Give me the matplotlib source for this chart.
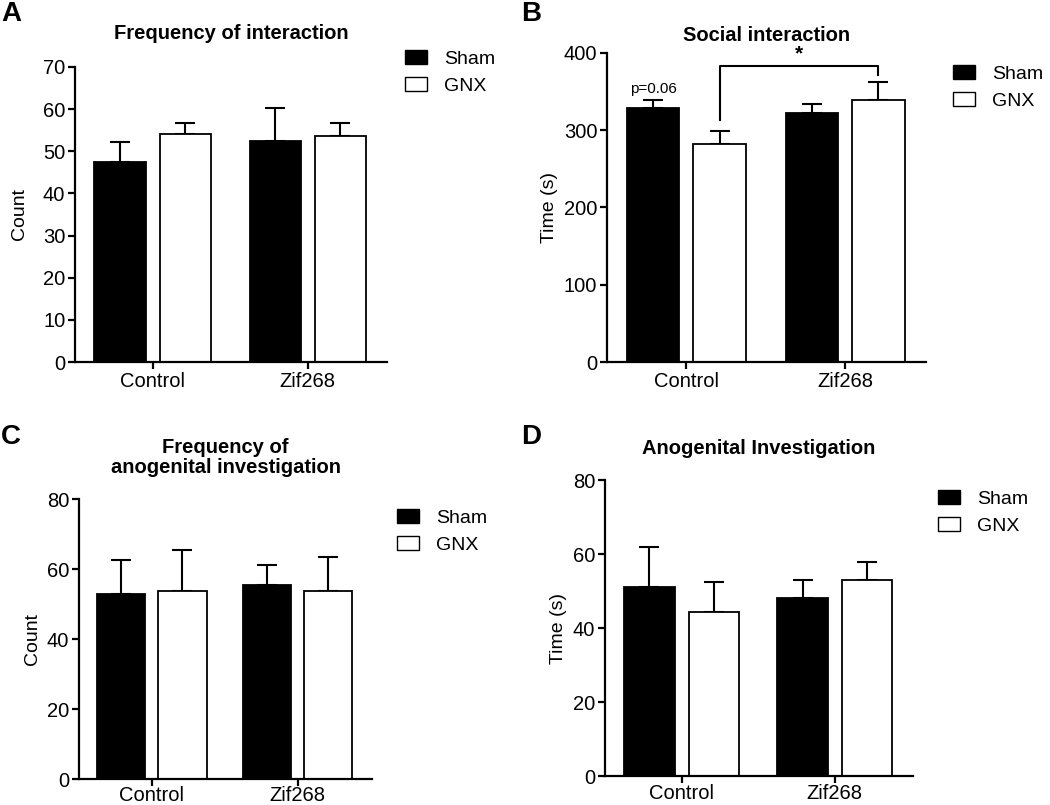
"""Four panel bar chart: Sham vs GNX in Control and Zif268 groups."""

import numpy as np
import matplotlib.pyplot as plt
from matplotlib.patches import Patch

plt.rcParams['font.family'] = ['Liberation Sans', 'DejaVu Sans']

groups = ["Control", "Zif268"]
series = ["Sham", "GNX"]

# means and upper SEM tops
freq_sham = [47.5, 52.4]
freq_gnx = [54.1, 53.7]
freq_sham_err = [4.7, 7.9]
freq_gnx_err = [2.6, 2.9]

social_sham = [328.6, 322.2]
social_gnx = [281.9, 338.6]
social_sham_err = [10.0, 11.6]
social_gnx_err = [17.3, 24.2]

ano_freq_sham = [53.0, 55.5]
ano_freq_gnx = [53.6, 53.6]
ano_freq_sham_err = [9.7, 5.7]
ano_freq_gnx_err = [11.9, 9.9]

ano_time_sham = [51.0, 48.2]
ano_time_gnx = [44.4, 52.9]
ano_time_sham_err = [10.9, 4.7]
ano_time_gnx_err = [7.9, 4.9]

W, H = 1050, 805


def add_axes_px(fig, left, right, top, bottom):
    """Make an axes from pixel edges."""
    return fig.add_axes([left / W, 1 - bottom / H,
                         (right - left) / W, (bottom - top) / H])


def bar_panel(ax, sham, gnx, sham_err, gnx_err, ymax, ystep, ylabel, title,
              title_y, labelpad=4, xpad=2):
    """Draw one grouped bar panel in a Prism-like style."""
    x = np.arange(len(groups))
    for vals, errs, off, face in [(sham, sham_err, -0.21, "black"),
                                  (gnx, gnx_err, 0.21, "white")]:
        ax.bar(x + off, vals, width=0.33, color=face, edgecolor="black",
               linewidth=1.3, zorder=2)
        ax.errorbar(x + off, vals, yerr=[np.zeros(len(errs)), errs],
                    fmt="none", ecolor="black", elinewidth=1.5, capsize=7,
                    capthick=1.5, zorder=1)
    ax.set_xlim(-0.5, 1.51)
    ax.set_ylim(0, ymax)
    ax.set_yticks(np.arange(0, ymax + 1, ystep))
    ax.set_xticks(x)
    ax.set_xticklabels(groups)
    ax.spines["top"].set_visible(False)
    ax.spines["right"].set_visible(False)
    ax.spines["left"].set_linewidth(1.6)
    ax.spines["bottom"].set_linewidth(1.6)
    ax.tick_params(axis="both", direction="out", length=5, width=1.6,
                   labelsize=14.5, pad=2)
    ax.tick_params(axis="x", pad=xpad)
    ax.set_ylabel(ylabel, fontsize=14, labelpad=labelpad)
    ax.set_title(title, fontsize=14.5, fontweight="bold", y=title_y,
                 va="center", pad=0, linespacing=1.05)


def add_legend(ax, px, py):
    """Legend with black and white squares, placed by pixel position."""
    handles = [Patch(facecolor="black", edgecolor="black", label="Sham"),
               Patch(facecolor="white", edgecolor="black", label="GNX")]
    ax.legend(handles=handles, loc="upper left", frameon=False, fontsize=14,
              bbox_to_anchor=(px / W, 1 - py / H),
              bbox_transform=ax.figure.transFigure, borderpad=0,
              borderaxespad=0, handlelength=1.15, handleheight=0.75,
              handletextpad=0.85, labelspacing=0.45)


fig = plt.figure(figsize=(W / 100, H / 100), dpi=100)

# Panel A
ax_a = add_axes_px(fig, 75, 387, 67, 362)
bar_panel(ax_a, freq_sham, freq_gnx, freq_sham_err, freq_gnx_err,
          70, 10, "Count", "Frequency of interaction", 1.115, labelpad=11)
add_legend(ax_a, 405, 50)

# Panel B
ax_b = add_axes_px(fig, 607, 926, 53, 362)
bar_panel(ax_b, social_sham, social_gnx, social_sham_err, social_gnx_err,
          400, 100, "Time (s)", "Social interaction", 1.058)
add_legend(ax_b, 953, 65)
# significance bracket between the two GNX bars
bx = [0.21, 0.21, 1.21, 1.21]
by = [313, 383, 383, 372]
ax_b.plot(bx, by, color="black", linewidth=1.5, clip_on=False)
ax_b.text(0.71, 386, "*", ha="center", va="bottom", fontsize=15,
          fontweight="bold")
ax_b.text(-0.21, 344, "p=0.06", ha="center", va="bottom", fontsize=11)

# Panel C
ax_c = add_axes_px(fig, 79, 372, 499, 779)
bar_panel(ax_c, ano_freq_sham, ano_freq_gnx, ano_freq_sham_err,
          ano_freq_gnx_err, 80, 20, "Count",
          "Frequency of\nanogenital investigation", 1.148, xpad=0)
add_legend(ax_c, 397, 509)

# Panel D
ax_d = add_axes_px(fig, 605, 913, 480, 776)
bar_panel(ax_d, ano_time_sham, ano_time_gnx, ano_time_sham_err,
          ano_time_gnx_err, 80, 20, "Time (s)", "Anogenital Investigation",
          1.105, xpad=1)
add_legend(ax_d, 938, 490)

# Panel letters
for letter, px, py in [("A", 1, 1), ("B", 521, 1), ("C", 1, 424),
                       ("D", 521, 424)]:
    fig.text(px / W, 1 - py / H, letter, fontsize=20, fontweight="heavy",
             ha="left", va="top")

fig.savefig("out.png", dpi=100)
